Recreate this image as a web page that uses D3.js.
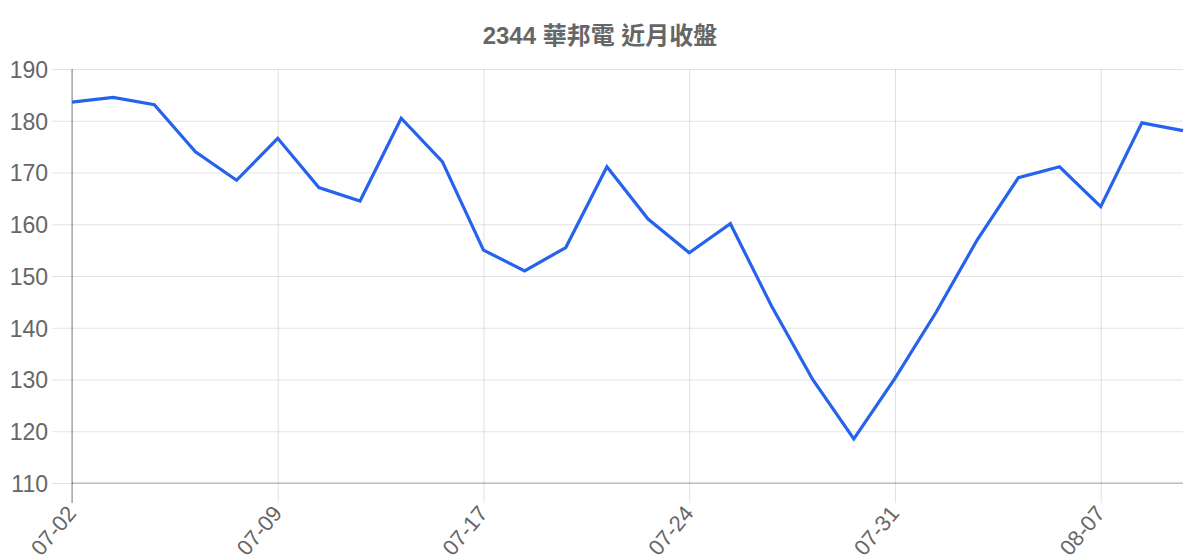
<!DOCTYPE html>
<html>
<head>
<meta charset="utf-8">
<script src="https://cdn.jsdelivr.net/npm/d3@7"></script>
<style>
  body { margin: 0; background: #fff; }
  text { font-family: "Liberation Sans", Arial, "Noto Sans CJK TC", sans-serif; fill: #666; }
</style>
</head>
<body>
<div id="chart"></div>
<script>
// closing prices, one per trading day
const dates = ['07-02', '07-03', '07-04', '07-05', '07-08', '07-09', '07-10', '07-11', '07-12', '07-15',
               '07-17', '07-18', '07-19', '07-22', '07-23', '07-24', '07-25', '07-26', '07-29', '07-30',
               '07-31', '08-01', '08-02', '08-05', '08-06', '08-07', '08-08', '08-09'];
const closes = [183.6, 184.5, 183.1, 174, 168.5, 176.6, 167.1, 164.5, 180.5, 172.1,
                155, 151, 155.5, 171.1, 161, 154.5, 160.1, 144.2, 130, 118.5,
                130.2, 143, 157, 169, 171.1, 163.4, 179.6, 178.1];
const yTicks = [110, 120, 130, 140, 150, 160, 170, 180, 190];
const title = '2344 華邦電 近月收盤';

const width = 1200, height = 560;
const margin = {top: 69, right: 17, bottom: 77, left: 72};
const tickLen = 20;

const svg = d3.select('#chart').append('svg')
    .attr('width', width)
    .attr('height', height);

const x = d3.scalePoint()
    .domain(dates)
    .range([margin.left, width - margin.right]);

const y = d3.scaleLinear()
    .domain([110, 190])
    .range([height - margin.bottom, margin.top]);

// title
svg.append('text')
    .attr('x', width / 2)
    .attr('y', 44)
    .attr('text-anchor', 'middle')
    .style('font-size', '24px')
    .style('font-weight', 'bold')
    .text(title);

// horizontal grid + y labels
const yAxis = svg.append('g')
    .attr('transform', 'translate(' + margin.left + ',0)')
    .call(d3.axisLeft(y).tickValues(yTicks).tickSize(tickLen).tickSizeOuter(0).tickPadding(4));
yAxis.select('.domain').remove();
yAxis.selectAll('.tick line')
    .attr('x2', -tickLen)
    .attr('x1', width - margin.right - margin.left)
    .attr('stroke', 'rgba(0,0,0,0.11)');
yAxis.selectAll('.tick text')
    .style('font-size', '23px')
    .attr('fill', '#666')
    .attr('dy', '0.36em');

// vertical grid + x labels, every 5th day
const shown = dates.filter(function (d, i) { return i % 5 === 0; });
const xAxis = svg.append('g')
    .attr('transform', 'translate(0,' + (height - margin.bottom) + ')')
    .call(d3.axisBottom(x).tickValues(shown).tickSize(tickLen).tickSizeOuter(0));
xAxis.select('.domain').remove();
xAxis.selectAll('.tick line')
    .attr('y1', -(height - margin.bottom - margin.top))
    .attr('y2', tickLen)
    .attr('stroke', 'rgba(0,0,0,0.12)');
xAxis.selectAll('.tick text')
    .style('font-size', '22px')
    .attr('fill', '#666')
    .attr('text-anchor', 'end')
    .attr('dy', '0.35em')
    .attr('transform', 'translate(-1,26) rotate(-50)')
    .attr('y', 0)
    .attr('x', 0);

// axis borders
svg.append('line')
    .attr('x1', margin.left).attr('x2', margin.left)
    .attr('y1', margin.top).attr('y2', height - margin.bottom + tickLen)
    .attr('stroke', 'rgba(0,0,0,0.3)')
    .attr('stroke-width', 1.5);
svg.append('line')
    .attr('x1', margin.left).attr('x2', width - margin.right)
    .attr('y1', y(110)).attr('y2', y(110))
    .attr('stroke', 'rgba(0,0,0,0.2)')
    .attr('stroke-width', 1.5);

// the price line
const line = d3.line()
    .x(function (d, i) { return x(dates[i]); })
    .y(function (d) { return y(d); });

svg.append('path')
    .datum(closes)
    .attr('d', line)
    .attr('fill', 'none')
    .attr('stroke', '#2563eb')
    .attr('stroke-width', 3.2)
    .attr('stroke-linejoin', 'miter');
</script>
</body>
</html>
